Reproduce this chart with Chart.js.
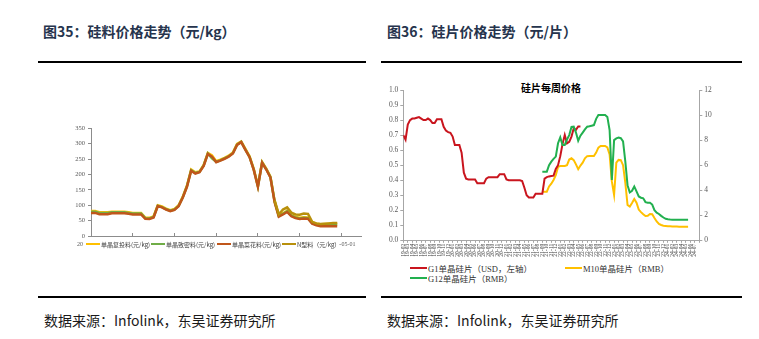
<!DOCTYPE html>
<html lang="zh-CN">
<head>
<meta charset="utf-8">
<title>硅料、硅片价格走势</title>
<script src="https://cdn.jsdelivr.net/npm/chart.js@4.4.1/dist/chart.umd.min.js"></script>
<style>
  html, body { margin: 0; padding: 0; background: #fff; }
  body { width: 759px; height: 339px; position: relative; overflow: hidden; font-family: "Noto Sans CJK SC", sans-serif; }
  .title { position: absolute; top: 23px; line-height: 16px; font-size: 14px; font-weight: bold; color: #26344d; white-space: nowrap; }
  .rule { position: absolute; height: 2px; background: #000; }
  .source { position: absolute; top: 311px; line-height: 18px; font-size: 14px; color: #1a1a1a; white-space: nowrap; }
  canvas { position: absolute; }
  .legend { position: absolute; background: #fff; white-space: nowrap; color: #404040; }
  .legend .item { position: absolute; display: flex; align-items: center; }
  .legend i { display: inline-block; }
  #legend-si { font-size: 6px; }
  #legend-si i { width: 14px; height: 2.5px; margin-right: 1px; }
  #legend-wafer { font-family: "Liberation Serif", "Noto Sans CJK SC", serif; font-size: 8.5px; color: #333; }
  #legend-wafer i { width: 17px; height: 2px; margin-right: 1px; }
  .chart-title { position: absolute; left: 511px; width: 80px; top: 81px; line-height: 13px; text-align: center; font-size: 10px; font-weight: bold; color: #000; }
</style>
</head>
<body>

<div class="title" style="left:43px">图35：硅料价格走势（元/kg）</div>
<div class="title" style="left:387px">图36：硅片价格走势（元/片）</div>
<div class="rule" style="left:38px;top:61px;width:328px"></div>
<div class="rule" style="left:381px;top:61px;width:361px"></div>

<canvas id="chart-si" width="330" height="150" style="left:40px;top:110px"></canvas>
<div class="legend" id="legend-si" style="left:83px;top:239px;width:256px;height:10px">
  <span class="item" style="left:3px;height:10px"><i style="background:#FFC000"></i>单晶复投料(元/kg)</span>
  <span class="item" style="left:68px;height:10px"><i style="background:#70AD47"></i>单晶致密料(元/kg)</span>
  <span class="item" style="left:134px;height:10px"><i style="background:#C0561A"></i>单晶菜花料(元/kg)</span>
  <span class="item" style="left:199px;height:10px"><i style="background:#B8900C"></i>N型料（元/kg）</span>
</div>

<div class="chart-title">硅片每周价格</div>
<canvas id="chart-wafer" width="335" height="186" style="left:380px;top:80px"></canvas>
<div class="legend" id="legend-wafer" style="left:405px;top:262px;width:290px;height:22px">
  <span class="item" style="left:5px;top:1px;height:10px"><i style="background:#C9151E"></i>G1单晶硅片（USD，左轴）</span>
  <span class="item" style="left:160px;top:1px;height:10px"><i style="background:#FFC000"></i>M10单晶硅片（RMB）</span>
  <span class="item" style="left:5px;top:11px;height:10px"><i style="background:#22B04F"></i>G12单晶硅片（RMB）</span>
</div>

<div class="rule" style="left:38px;top:296px;width:328px"></div>
<div class="rule" style="left:381px;top:296px;width:361px"></div>
<div class="source" style="left:44px">数据来源：Infolink，东吴证券研究所</div>
<div class="source" style="left:387px">数据来源：Infolink，东吴证券研究所</div>

<script>
// polysilicon, monthly, yuan/kg
const siTicks = ['2019-05-01', '2020-03-01', '2021-01-01', '2021-11-01', '2022-09-01', '2023-07-01', '2024-05-01']
const siReload = [81, 81, 77, 77, 77, 79, 79, 79, 79, 77,
  75, 75, 75, 60, 59, 64, 100, 96, 89, 84,
  88, 100, 128, 164, 216, 207, 210, 231, 270, 262,
  243, 248, 254, 261, 271, 299, 307, 283, 259, 218,
  163, 241, 219, 193, 114, 67, 74, 82, 68, 62,
  59, 61, 60, 45, 40, 38, 39, 40, 41, 41]
const siDense = [79, 79, 75, 75, 75, 77, 77, 77, 77, 75,
  73, 73, 73, 58, 57, 62, 98, 94, 87, 82,
  86, 98, 126, 162, 214, 205, 208, 229, 268, 252,
  241, 246, 252, 259, 269, 297, 306, 281, 257, 216,
  161, 239, 217, 191, 112, 65, 72, 80, 66, 60,
  57, 59, 58, 42, 37, 35, 36, 36, 37, 37]
const siCauliflower = [75, 75, 71, 71, 71, 74, 74, 74, 74, 72,
  70, 70, 70, 56, 55, 60, 97, 93, 86, 81,
  85, 97, 125, 160, 212, 203, 207, 228, 267, 258,
  240, 245, 251, 258, 268, 296, 305, 280, 256, 215,
  160, 238, 216, 190, 110, 63, 70, 78, 64, 58,
  55, 57, 56, 40, 35, 32, 32, 32, 32, 32]
const siNType = [116, 70, 86, 93, 76, 70, 69, 73, 72, 46, 41, 39, 40, 41, 42, 42]
const nTypeFrom = 44

// wafers, twice a month
const waferMonths = [
  '19-02', '19-03', '19-04', '19-05', '19-06', '19-07', '19-08', '19-09', '19-10', '19-11', '19-12',
  '20-01', '20-02', '20-03', '20-04', '20-05', '20-06', '20-07', '20-08', '20-09', '20-10', '20-11', '20-12',
  '21-01', '21-02', '21-03', '21-04', '21-05', '21-06', '21-07', '21-08', '21-09', '21-10', '21-11', '21-12',
  '22-01', '22-02', '22-03', '22-04', '22-05', '22-06', '22-07', '22-08', '22-09', '22-10', '22-11', '22-12',
  '23-01', '23-02', '23-03', '23-04', '23-05', '23-06', '23-07', '23-08', '23-09', '23-10', '23-11', '23-12',
  '24-01', '24-02', '24-03', '24-04', '24-05', '24-06', '24-07']
const g1Usd = [0.70, 0.67, 0.77, 0.80, 0.81, 0.81, 0.815, 0.82, 0.81, 0.80,
  0.80, 0.81, 0.80, 0.78, 0.78, 0.805, 0.805, 0.805, 0.755, 0.73,
  0.72, 0.715, 0.69, 0.634, 0.634, 0.634, 0.583, 0.45, 0.41, 0.405,
  0.405, 0.405, 0.405, 0.38, 0.38, 0.38, 0.38, 0.41, 0.42, 0.42,
  0.42, 0.42, 0.42, 0.44, 0.44, 0.44, 0.405, 0.40, 0.40, 0.40,
  0.40, 0.40, 0.40, 0.395, 0.35, 0.30, 0.285, 0.285, 0.285, 0.31,
  0.31, 0.31, 0.31, 0.41, 0.42, 0.425, 0.428, 0.43, 0.475, 0.50,
  0.56, 0.64, 0.70, 0.645, 0.655, 0.69, 0.745, 0.735, 0.757, 0.757]
const m10Rmb = [3.88, 3.88, 3.88, 4.3, 4.52, 4.82, 5.2, 5.86, 5.93, 5.93,
  5.93, 6.0, 6.45, 6.55, 6.4, 6.06, 5.68, 5.97, 6.2, 6.55,
  6.72, 6.73, 6.73, 6.73, 7.0, 7.4, 7.53, 7.53, 7.53, 7.42,
  6.85, 4.7, 3.62, 6.2, 6.42, 6.4, 6.0, 4.6, 2.82, 2.69,
  2.98, 3.3, 3.0, 2.45, 2.25, 2.08, 1.94, 1.96, 2.1, 2.08,
  1.78, 1.5, 1.3, 1.22, 1.17, 1.15, 1.13, 1.12, 1.11, 1.1,
  1.1, 1.09, 1.09, 1.09, 1.09, 1.09]
const g12Rmb = [5.48, 5.48, 5.48, 6.0, 6.28, 6.5, 6.68, 7.75, 8.22, 7.61,
  7.61, 8.05, 8.4, 9.05, 9.07, 8.6, 7.95, 8.35, 8.6, 8.85,
  9.07, 9.1, 9.15, 9.2, 9.7, 10.0, 10.0, 10.0, 10.0, 9.85,
  8.8, 4.81, 8.0, 8.14, 8.2, 8.15, 7.9, 6.3, 4.4, 3.82,
  3.95, 4.3, 3.9, 3.5, 3.4, 3.35, 3.05, 3.0, 3.0, 2.85,
  2.4, 2.2, 2.1, 1.95, 1.82, 1.72, 1.68, 1.66, 1.65, 1.65,
  1.65, 1.65, 1.65, 1.65, 1.65, 1.65]
const newWaferFrom = 31

const toPoints = (vals, start, step) => vals.map((v, i) => ({ x: start + i * step, y: v }))

const axisGray = '#8c8c8c'
const tickGray = '#595959'
const serif = '"Liberation Serif", "Times New Roman", serif'

new Chart(document.getElementById('chart-si'), {
  type: 'line',
  data: {
    datasets: [
      { label: 'N型料（元/kg）', data: toPoints(siNType, nTypeFrom, 1), borderColor: '#B8900C' },
      { label: '单晶菜花料(元/kg)', data: toPoints(siCauliflower, 0, 1), borderColor: '#C0561A' },
      { label: '单晶致密料(元/kg)', data: toPoints(siDense, 0, 1), borderColor: '#70AD47' },
      { label: '单晶复投料(元/kg)', data: toPoints(siReload, 0, 1), borderColor: '#FFC000' }
    ]
  },
  options: {
    responsive: false,
    animation: false,
    layout: { padding: { top: 18.3, right: 9, bottom: 0, left: 0 } },
    elements: { point: { radius: 0 }, line: { borderWidth: 2.5, tension: 0 } },
    plugins: { legend: { display: false }, tooltip: { enabled: false } },
    scales: {
      x: {
        type: 'linear',
        min: 0,
        max: 64.7,
        afterBuildTicks: s => { s.ticks = siTicks.map((t, i) => ({ value: i * 10 })) },
        afterFit: s => { s.height = 24 },
        ticks: {
          autoSkip: false, maxRotation: 0, padding: 8,
          font: { family: serif, size: 6 }, color: tickGray,
          callback: v => siTicks[v / 10]
        },
        grid: { drawOnChartArea: false, tickLength: -3, color: axisGray },
        border: { color: axisGray }
      },
      y: {
        min: 0,
        max: 350,
        afterFit: s => { s.width = 51 },
        ticks: { stepSize: 50, padding: 3, font: { family: serif, size: 6.5 }, color: tickGray },
        grid: { drawOnChartArea: false, tickLength: 3, color: axisGray },
        border: { color: axisGray }
      }
    }
  }
})

new Chart(document.getElementById('chart-wafer'), {
  type: 'line',
  data: {
    datasets: [
      { label: 'G12单晶硅片（RMB）', data: toPoints(g12Rmb, newWaferFrom, 0.5), borderColor: '#22B04F', yAxisID: 'y1' },
      { label: 'G1单晶硅片（USD，左轴）', data: toPoints(g1Usd, 0, 0.5), borderColor: '#C9151E', yAxisID: 'y' },
      { label: 'M10单晶硅片（RMB）', data: toPoints(m10Rmb, newWaferFrom, 0.5), borderColor: '#FFC000', yAxisID: 'y1' }
    ]
  },
  options: {
    responsive: false,
    animation: false,
    layout: { padding: { top: 10, right: 0, bottom: 0, left: 0 } },
    elements: { point: { radius: 0 }, line: { borderWidth: 2, tension: 0 } },
    plugins: { legend: { display: false }, tooltip: { enabled: false } },
    scales: {
      x: {
        type: 'linear',
        min: 0,
        max: waferMonths.length,
        afterBuildTicks: s => { s.ticks = waferMonths.concat(['']).map((m, i) => ({ value: i })) },
        afterFit: s => { s.height = 25.7 },
        ticks: {
          autoSkip: false, minRotation: 90, maxRotation: 90, padding: 1,
          font: { family: serif, size: 5.5 }, color: '#404040',
          callback: v => waferMonths[v] || ''
        },
        grid: { drawOnChartArea: false, tickLength: 2.5, color: '#a6a6a6' },
        border: { color: '#a6a6a6' }
      },
      y: {
        position: 'left',
        min: 0,
        max: 1,
        afterFit: s => { s.width = 23.3 },
        ticks: { stepSize: 0.1, padding: 2, font: { family: serif, size: 7.5 }, color: tickGray, callback: v => v.toFixed(1) },
        grid: { drawOnChartArea: false, tickLength: 3, color: '#a6a6a6' },
        border: { color: '#a6a6a6' }
      },
      y1: {
        position: 'right',
        min: 0,
        max: 12,
        afterFit: s => { s.width = 15.7 },
        ticks: { stepSize: 2, padding: 2, font: { family: serif, size: 7.5 }, color: tickGray },
        grid: { drawOnChartArea: false, tickLength: 3, color: '#a6a6a6' },
        border: { color: '#a6a6a6' }
      }
    }
  }
})
</script>
</body>
</html>
